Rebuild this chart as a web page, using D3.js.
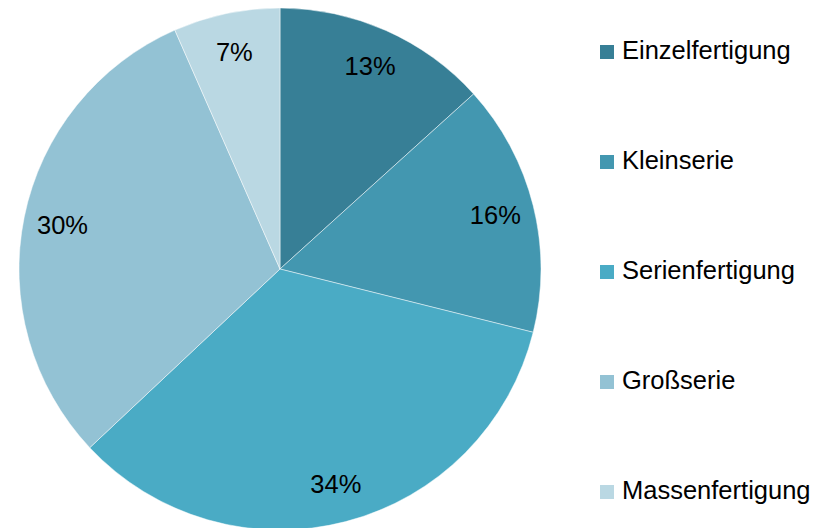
<!DOCTYPE html>
<html>
<head>
<meta charset="utf-8">
<script src="https://cdn.jsdelivr.net/npm/d3@7"></script>
<style>
  body { margin: 0; background: #fff; }
  text { font-family: "Liberation Sans", Arial, sans-serif; }
</style>
</head>
<body>
<div id="chart"></div>
<script>
// data (labels show the rounded percent)
const categories = ["Einzelfertigung", "Kleinserie", "Serienfertigung", "Großserie", "Massenfertigung"];
const shares = [13.3, 15.6, 34.1, 30.4, 6.6];
const colors = ["#377f96", "#4397b0", "#4aabc5", "#93c2d4", "#bad8e3"];

const width = 832, height = 528;
const cx = 280, cy = 269, radius = 261;

let svg = d3.select("#chart").append("svg")
  .attr("width", width)
  .attr("height", height);

let pie = d3.pie().sort(null).value(d => d);
let arcs = pie(shares);

let arc = d3.arc().innerRadius(0).outerRadius(radius);
let labelArc = d3.arc().innerRadius(222).outerRadius(222);

let g = svg.append("g").attr("transform", `translate(${cx},${cy})`);

g.selectAll("path")
  .data(arcs)
  .enter()
  .append("path")
  .attr("d", arc)
  .attr("fill", (d, i) => colors[i])
  .attr("stroke", "#ffffff")
  .attr("stroke-opacity", 0.6)
  .attr("stroke-width", 0.8);

g.selectAll("text.lbl")
  .data(arcs)
  .enter()
  .append("text")
  .attr("class", "lbl")
  .attr("transform", d => `translate(${labelArc.centroid(d)})`)
  .attr("text-anchor", "middle")
  .attr("dy", "0.35em")
  .attr("font-size", "25.5px")
  .attr("fill", "#000")
  .text(d => Math.round(d.value) + "%");

// legend
let legendY = d3.scalePoint().domain(categories).range([52, 492]);

let legend = svg.selectAll("g.leg")
  .data(categories)
  .enter()
  .append("g")
  .attr("class", "leg")
  .attr("transform", d => `translate(600,${legendY(d)})`);

legend.append("rect")
  .attr("x", 0)
  .attr("y", -7)
  .attr("width", 14)
  .attr("height", 14)
  .attr("fill", (d, i) => colors[i]);

legend.append("text")
  .attr("x", 22)
  .attr("y", 7)
  .attr("font-size", "25.5px")
  .attr("fill", "#000")
  .text(d => d);
</script>
</body>
</html>
